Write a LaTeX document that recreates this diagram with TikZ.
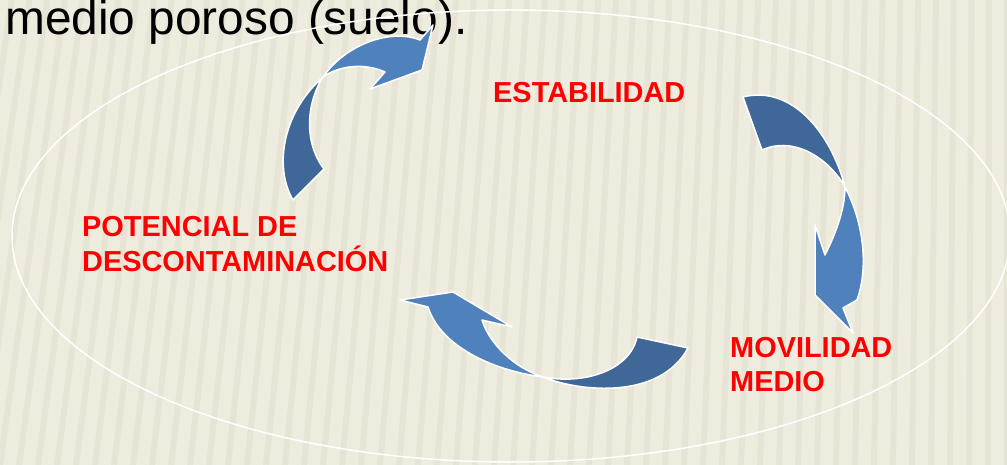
\documentclass[tikz,border=0pt]{standalone}
\usepackage{fontspec}
\setmainfont{Liberation Sans}
\definecolor{bgbeige}{HTML}{EEECDF}
\definecolor{bgstripe}{HTML}{DDDAC8}
\definecolor{arrdark}{HTML}{3F6899}
\definecolor{arrlight}{HTML}{4F81BD}
\definecolor{labred}{HTML}{FF0000}
\tikzset{
  darkpart/.style={fill=arrdark, draw=white, line width=1.5pt, line join=round},
  lightpart/.style={fill=arrlight, draw=white, line width=1.5pt, line join=round},
  lab/.style={inner sep=0pt, anchor=base west, text=labred, font=\fontsize{28.9}{34}\selectfont\bfseries},
  ring/.style={draw=white, line width=1.5pt}
}
\begin{document}
\begin{tikzpicture}[x=1pt,y=-1pt]
\useasboundingbox (0,0) rectangle (1007,465);
\fill[bgbeige] (0,0) rectangle (1007,465);
\begin{scope}
\clip (0,0) rectangle (1007,465);
\foreach \i in {-4,...,56}{
  \pgfmathsetmacro{\xx}{\i*19}
  \pgfmathsetmacro{\ss}{65*(1-\xx/1007)}
  \draw[bgstripe, line width=6pt, opacity=0.4] (\xx+\ss,0) -- (\xx,465);
}
\end{scope}
\node[inner sep=0pt, anchor=base west, font=\fontsize{47.8}{50}\selectfont] (title) at (5,35) {medio poroso (suelo).};
\draw[ring] (511,236) ellipse [x radius=499, y radius=226];
% arrow 1 (top left)
\path[darkpart] (293,200) .. controls (275,170) and (280,115) .. (323,77)
  .. controls (308,100) and (302,140) .. (324,169) -- cycle;
\path[lightpart] (323,77) .. controls (345,45) and (390,28) .. (420,40)
  -- (433,25) -- (422,70) -- (370,89) -- (385,72)
  .. controls (365,63) and (340,65) .. (323,77) -- cycle;
% arrow 2 (right)
\path[darkpart] (743,97) .. controls (790,85) and (830,130) .. (845,187)
  .. controls (830,160) and (795,135) .. (762,150) -- cycle;
\path[lightpart] (845,187) .. controls (865,225) and (868,270) .. (857,300)
  -- (843,308) -- (853,333) -- (815,295) -- (815,225) -- (825,255)
  .. controls (835,235) and (845,210) .. (845,187) -- cycle;
% arrow 3 (bottom)
\path[darkpart] (637,337) .. controls (630,370) and (585,385) .. (543,377)
  .. controls (580,392) and (660,400) .. (688,348) -- cycle;
\path[lightpart] (543,377) .. controls (490,370) and (440,345) .. (428,307)
  -- (400,300) -- (453,292) -- (512,327) -- (482,320)
  .. controls (490,345) and (515,368) .. (543,377) -- cycle;
% labels
\node[lab] (estab) at (493,103) {ESTABILIDAD};
\node[lab] (pot1) at (82,237) {POTENCIAL DE};
\node[lab] (pot2) at (82,272) {DESCONTAMINACIÓN};
\node[lab] (mov1) at (730,357) {MOVILIDAD};
\node[lab] (mov2) at (730,391) {MEDIO};
\end{tikzpicture}
\end{document}
